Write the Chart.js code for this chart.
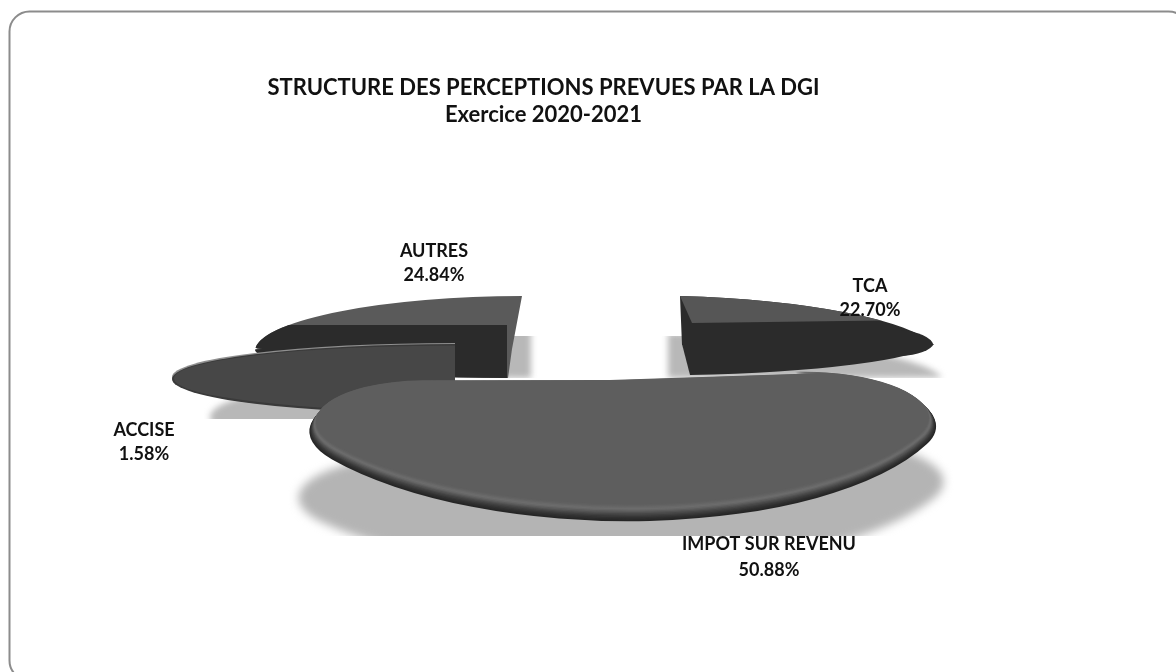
<!DOCTYPE html>
<html>
<head>
<meta charset="utf-8">
<style>
    body { margin: 0; background: #fff; }
    canvas { display: block; }
</style>
<script src="https://cdn.jsdelivr.net/npm/chart.js@4/dist/chart.umd.min.js"></script>
</head>
<body>
<canvas id="pie" width="1176" height="672"></canvas>
<script>
// Data
const categories = ['TCA', 'IMPOT SUR REVENU', 'ACCISE', 'AUTRES'];
const shares = [22.70, 50.88, 1.58, 24.84];
const titleLines = ['STRUCTURE DES PERCEPTIONS PREVUES PAR LA DGI', 'Exercice 2020-2021'];

const TCA = 0, IMPOT = 1, ACCISE = 2, AUTRES = 3;
const FONT = 'Lato';

// Label anchors, in page pixels
const LABEL_POS = [[870, 286], [769, 544], [144, 430], [434, 251]];
const LIGHT = '#5a5a5a', DARK = '#2b2b2b';

// Draw one slice through an affine view of its own
function paint(ctx, el, view, color) {
    const R = el.outerRadius;
    const a = view.rx / R, d = view.ry / R;
    const b = (view.ky || 0) / R, c = (view.kx || 0) / R;
    ctx.save();
    ctx.transform(a, b, c, d, view.x - a * el.x - c * el.y, view.y - b * el.x - d * el.y);
    const saved = el.options;
    el.options = Object.assign({}, saved, { backgroundColor: color, borderWidth: 0 });
    el.draw(ctx);
    el.options = saved;
    ctx.restore();
}

function clipped(ctx, x, y, w, h, fn) {
    ctx.save();
    ctx.beginPath();
    ctx.rect(x, y, w, h);
    ctx.clip();
    fn();
    ctx.restore();
}

const explodedPie = {
    id: 'explodedPie',
    beforeDraw(chart) {
        // rounded frame of the slide, runs off the page at right and bottom
        const ctx = chart.ctx;
        ctx.save();
        ctx.strokeStyle = '#8c8c8c';
        ctx.lineWidth = 2;
        ctx.beginPath();
        ctx.roundRect(9.5, 11.5, 1179, 669, 20);
        ctx.stroke();
        ctx.restore();
    },
    beforeDatasetDraw(chart) {
        const ctx = chart.ctx;
        const arcs = chart.getDatasetMeta(0).data;

        // TCA and AUTRES are each an upper quadrant plus a mirrored lower one
        const tcaUp = { x: 682, y: 345, rx: 253, ry: 49, kx: 2, ky: 7 };
        const tcaLow = { x: 682, y: 344, rx: 253, ry: -31, kx: -8, ky: -4.4 };
        const autUp = { x: 512, y: 349, rx: 257, ry: 53, kx: -10, ky: -0.6 };
        const autLow = { x: 512, y: 349, rx: 257, ry: -29, kx: 4, ky: 0.3 };

        // the reference's perspective blows the 1.58% slice up into a half ellipse,
        // so this one is drawn with a wider sweep than its value gives
        const acc = arcs[ACCISE];
        const start = acc.startAngle, end = acc.endAngle, circ = acc.circumference;
        acc.startAngle = Math.PI / 2;
        acc.endAngle = Math.PI * 1.5;
        acc.circumference = Math.PI;

        // soft shadows
        ctx.save();
        ctx.filter = 'blur(3px)';
        clipped(ctx, 0, 336, 1176, 42, () => {
            paint(ctx, arcs[TCA], { x: 668, y: 378, rx: 277, ry: 45, ky: 6 }, '#b8b8b8');
            paint(ctx, arcs[AUTRES], { x: 531, y: 378, rx: 260, ry: 60 }, '#b8b8b8');
        });
        clipped(ctx, 0, 390, 460, 29, () => {
            paint(ctx, acc, { x: 455, y: 417, rx: 245, ry: 40 }, '#b8b8b8');
        });
        ctx.filter = 'blur(5px)';
        clipped(ctx, 0, 0, 1176, 536, () => {
            paint(ctx, arcs[IMPOT], { x: 608, y: 452, rx: 353, ry: 120 }, '#b4b4b4');
        });
        ctx.restore();

        // AUTRES: wall and top are lighter, the cut face is dark
        paint(ctx, arcs[AUTRES], autUp, LIGHT);
        paint(ctx, arcs[AUTRES], autLow, LIGHT);
        clipped(ctx, 200, 325, 307, 60, () => {
            paint(ctx, arcs[AUTRES], autUp, DARK);
            paint(ctx, arcs[AUTRES], autLow, DARK);
        });

        // TCA: dark body, small cap for the blunt tip, lighter wedge on top
        paint(ctx, arcs[TCA], tcaUp, DARK);
        paint(ctx, arcs[TCA], tcaLow, DARK);
        paint(ctx, arcs[TCA], { x: 901, y: 345, rx: 33, ry: 15, ky: 2.2 }, DARK);
        paint(ctx, arcs[TCA], { x: 901, y: 344, rx: 33, ry: -12, ky: -1.8 }, DARK);
        ctx.save();
        ctx.beginPath();
        ctx.moveTo(680, 296);
        ctx.lineTo(692, 323);
        ctx.lineTo(920, 320);
        ctx.lineTo(920, 280);
        ctx.lineTo(680, 280);
        ctx.closePath();
        ctx.clip();
        paint(ctx, arcs[TCA], tcaUp, '#565656');
        ctx.restore();

        // ACCISE with a thin highlight along the top
        paint(ctx, acc, { x: 455, y: 377, rx: 283, ry: 34 }, '#8f8f8f');
        paint(ctx, acc, { x: 455, y: 379, rx: 283, ry: 35 }, '#3a3a3a');
        paint(ctx, acc, { x: 455, y: 378.5, rx: 281, ry: 33 }, '#474747');
        acc.startAngle = start;
        acc.endAngle = end;
        acc.circumference = circ;

        // IMPOT: stack of layers for the bevel, dark rim up to the flat face
        const ramp = ['#262626', '#2b2b2b', '#303030', '#373737', '#3f3f3f', '#484848', '#525252', '#5c5c5c',
                      '#666666', '#6c6c6c', '#696969', '#646464', '#606060', '#5e5e5e'];
        ramp.forEach((color, i) => {
            const t = i / (ramp.length - 1);
            paint(ctx, arcs[IMPOT], {
                x: 610,
                y: 386 - 6 * t,
                rx: 343 - 8 * t,
                ry: 135 - 11 * t,
                ky: 7
            }, color);
        });

        return false; // the stock draw would put the plain pie on top
    },
    afterDatasetsDraw(chart) {
        const ctx = chart.ctx;
        ctx.save();
        ctx.fillStyle = '#111';
        ctx.font = 'bold 18px ' + FONT;
        ctx.textAlign = 'center';
        ctx.textBaseline = 'middle';
        categories.forEach((name, i) => {
            const gap = i === IMPOT ? 26 : 24;
            ctx.fillText(name, LABEL_POS[i][0], LABEL_POS[i][1]);
            ctx.fillText(shares[i].toFixed(2) + '%', LABEL_POS[i][0], LABEL_POS[i][1] + gap);
        });
        ctx.restore();
    }
};

new Chart(document.getElementById('pie'), {
    type: 'pie',
    data: {
        labels: categories,
        datasets: [{
            data: shares,
            backgroundColor: [DARK, LIGHT, '#474747', LIGHT],
            borderWidth: 0,
            borderRadius: [
                0,
                { outerStart: 95, outerEnd: 95 },
                0,
                { outerStart: 8 }
            ]
        }]
    },
    plugins: [explodedPie],
    options: {
        responsive: false,
        animation: false,
        layout: { padding: { right: 89, top: 74 } },
        plugins: {
            legend: { display: false },
            tooltip: { enabled: false },
            title: {
                display: true,
                text: titleLines,
                color: '#111',
                font: { family: FONT, size: 22, weight: 'bold', lineHeight: 1.23 },
                padding: { top: 0, bottom: 0 },
                fullSize: true
            }
        }
    }
});
</script>
</body>
</html>
